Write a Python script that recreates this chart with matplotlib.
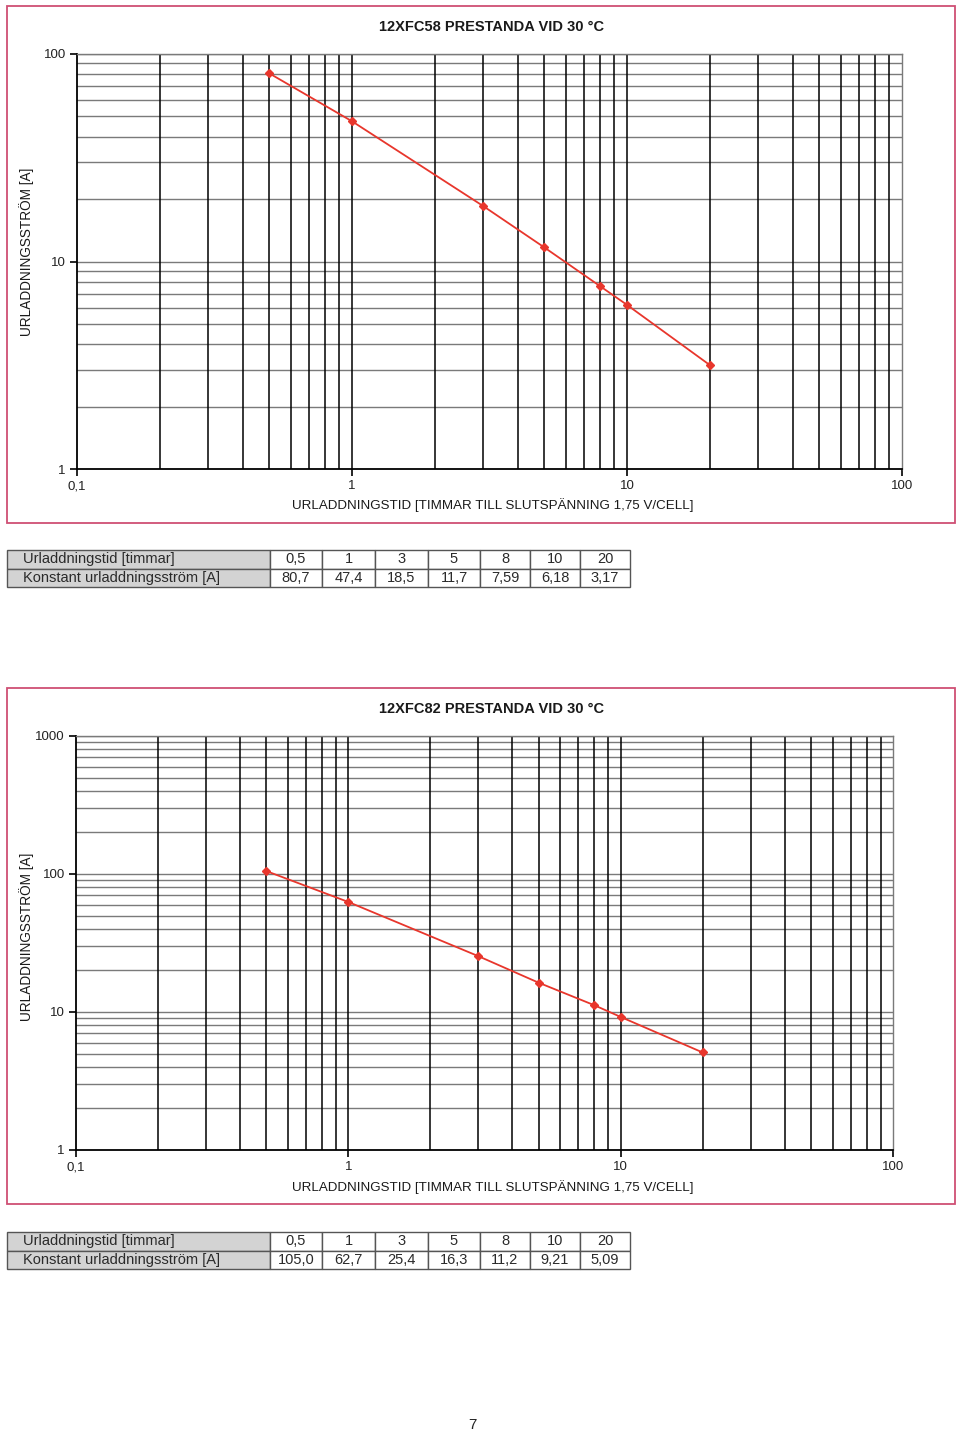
import numpy as np
import matplotlib.pyplot as plt
from matplotlib.patches import Rectangle
from matplotlib.ticker import FixedLocator, FixedFormatter, NullLocator

plt.rcParams['font.family'] = ['Liberation Sans', 'DejaVu Sans']

hours = [0.5, 1, 3, 5, 8, 10, 20]
amps_58 = [80.7, 47.4, 18.5, 11.7, 7.59, 6.18, 3.17]
amps_82 = [105.0, 62.7, 25.4, 16.3, 11.2, 9.21, 5.09]

hour_labels = ['0,5', '1', '3', '5', '8', '10', '20']
amps_58_labels = ['80,7', '47,4', '18,5', '11,7', '7,59', '6,18', '3,17']
amps_82_labels = ['105,0', '62,7', '25,4', '16,3', '11,2', '9,21', '5,09']
row_names = ['Urladdningstid [timmar]', 'Konstant urladdningsström [A]']

title_58 = '12XFC58 PRESTANDA VID 30 °C'
title_82 = '12XFC82 PRESTANDA VID 30 °C'
xlabel = 'URLADDNINGSTID [TIMMAR TILL SLUTSPÄNNING 1,75 V/CELL]'
ylabel = 'URLADDNINGSSTRÖM [A]'

W, H = 960, 1432
frame_col = '#cf4f74'
red = '#e8362c'

fig = plt.figure(figsize=(W / 100, H / 100), dpi=100)


def fbox(x0, y0, x1, y1):
    # pixel box (top-left origin) -> [left, bottom, width, height] in figure fraction
    return [x0 / W, 1 - y1 / H, (x1 - x0) / W, (y1 - y0) / H]


def frame(x0, y0, x1, y1):
    l, b, w, h = fbox(x0, y0, x1, y1)
    fig.add_artist(Rectangle((l, b), w, h, transform=fig.transFigure,
                             fill=False, ec=frame_col, lw=1.3))


def chart(box, ymax, amps, title, title_y, xlab_y, ylab_y):
    ax = fig.add_axes(fbox(*box))
    ax.set_xscale('log')
    ax.set_yscale('log')
    ax.set_xlim(0.1, 100)
    ax.set_ylim(1, ymax)

    # grid: grey horizontals, black verticals
    ydec = np.log10(ymax)
    for d in range(int(ydec)):
        for m in range(2, 11):
            ax.axhline(m * 10 ** d, color='#7a7a7a', lw=1.0, zorder=1)
    for d in (-1, 0, 1):
        for m in range(2, 10):
            ax.axvline(m * 10 ** d, color='black', lw=1.1, zorder=2)
    for v in (1, 10):
        ax.axvline(v, color='black', lw=1.1, zorder=2)

    ax.plot(hours, amps, color=red, lw=1.3, marker='D', ms=4.5,
            mec=red, mfc=red, zorder=5, clip_on=False)

    for s in ('top', 'right'):
        ax.spines[s].set_color('#7a7a7a')
        ax.spines[s].set_linewidth(1.0)
    for s in ('left', 'bottom'):
        ax.spines[s].set_color('black')
        ax.spines[s].set_linewidth(1.3)

    xt = [0.1, 1, 10, 100]
    ax.xaxis.set_major_locator(FixedLocator(xt))
    ax.xaxis.set_major_formatter(FixedFormatter(['0,1', '1', '10', '100']))
    ax.xaxis.set_minor_locator(NullLocator())
    yt = [10 ** d for d in range(int(ydec) + 1)]
    ax.yaxis.set_major_locator(FixedLocator(yt))
    ax.yaxis.set_major_formatter(FixedFormatter([str(v) for v in yt]))
    ax.yaxis.set_minor_locator(NullLocator())
    ax.tick_params(length=5, width=1.2, color='black', labelsize=9.5,
                   labelcolor='#222222', pad=3)

    fig.text(492 / W, 1 - title_y / H, title, ha='center', va='center',
             fontsize=10.5, fontweight='bold', color='#1a1a1a')
    fig.text(493 / W, 1 - xlab_y / H, xlabel, ha='center', va='center',
             fontsize=9.6, color='#1a1a1a')
    fig.text(27 / W, 1 - ylab_y / H, ylabel, ha='center', va='center',
             rotation=90, fontsize=9.8, color='#1a1a1a')
    return ax


def table(box, values):
    ax = fig.add_axes(fbox(*box))
    ax.axis('off')
    cells = [row_names[:1] + hour_labels, row_names[1:] + values]
    widths = [263, 52, 53, 53, 52, 50, 50, 50]
    tot = sum(widths)
    tb = ax.table(cellText=cells, colWidths=[w / tot for w in widths],
                  bbox=[0, 0, 1, 1])
    tb.auto_set_font_size(False)
    for (r, c), cell in tb.get_celld().items():
        cell.set_edgecolor('#555555')
        cell.set_linewidth(1.0)
        txt = cell.get_text()
        txt.set_fontsize(10.5)
        txt.set_color('#2a2a2a')
        if c == 0:
            cell.set_facecolor('#d3d3d3')
            txt.set_ha('left')
            cell.PAD = 0.06
        else:
            txt.set_ha('center')
            cell._loc = 'center'


frame(7, 6, 955, 523)
chart((77, 54, 902, 469), 100, amps_58, title_58, 27, 505, 252)
table((7, 550, 630, 587), amps_58_labels)

frame(7, 688, 955, 1204)
chart((76, 736, 893, 1150), 1000, amps_82, title_82, 709, 1187, 937)
table((7, 1232, 630, 1269), amps_82_labels)

fig.text(472 / W, 1 - 1425 / H, '7', ha='center', va='center', fontsize=11,
         color='#222222')

fig.savefig('out.png', dpi=100)
